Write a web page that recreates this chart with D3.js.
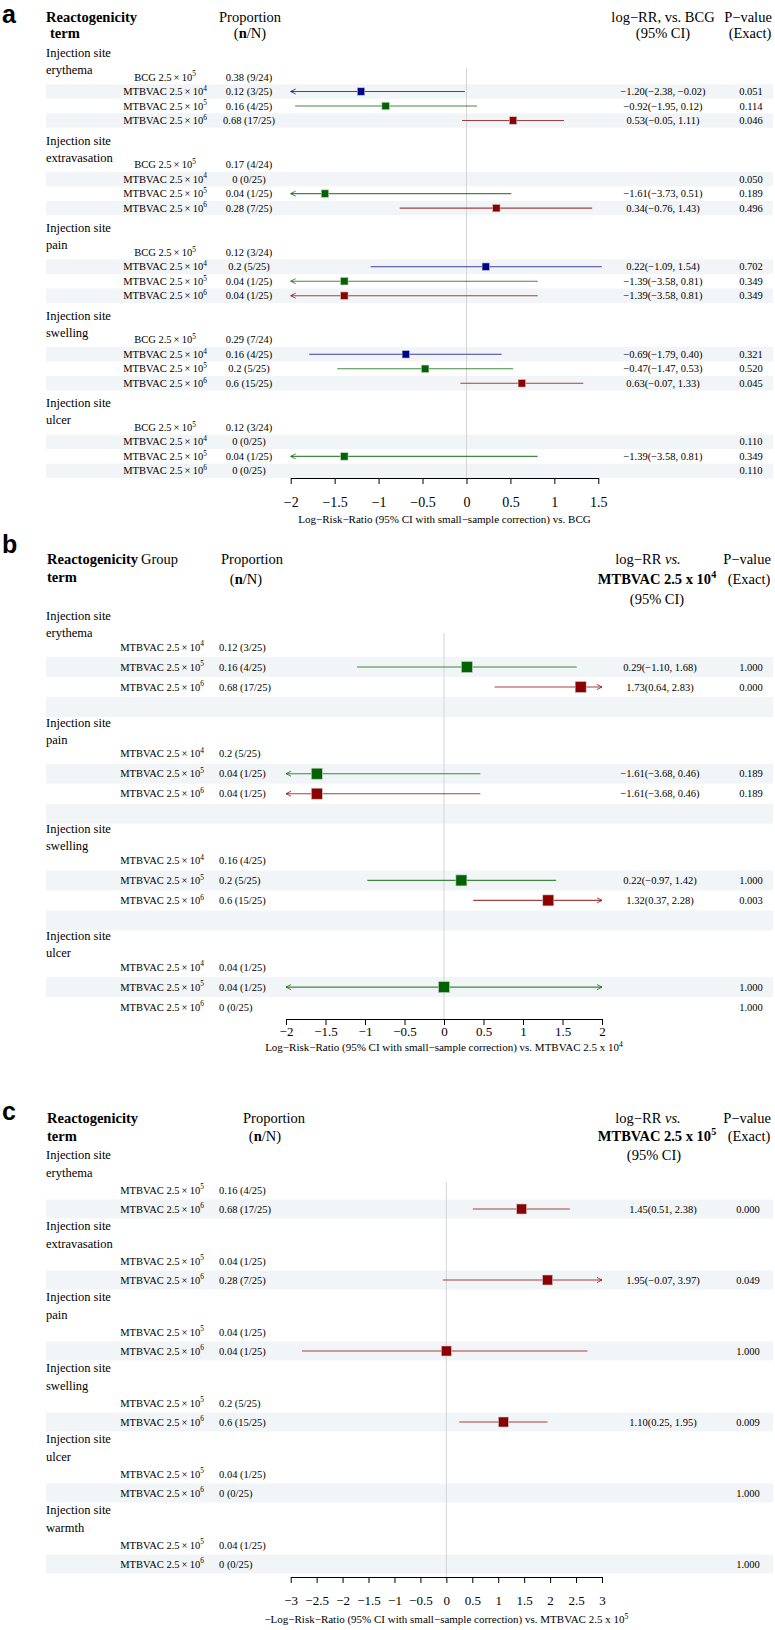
<!DOCTYPE html>
<html>
<head>
<meta charset="utf-8">
<script src="https://cdn.jsdelivr.net/npm/d3@7"></script>
<style>
  body { margin: 0; background: #fff; }
  svg { display: block; }
  text { font-family: "Liberation Serif", "Times New Roman", serif; fill: #000; }
</style>
</head>
<body>
<svg id="fig" width="775" height="1630"></svg>
<script>
// ---- panel a : log-RR vs BCG ----
const termsA = ["erythema", "extravasation", "pain", "swelling", "ulcer"];
const armsA = [["BCG", 5], ["MTBVAC", 4], ["MTBVAC", 5], ["MTBVAC", 6]];
const propA = [
  ["0.38 (9/24)", "0.12 (3/25)", "0.16 (4/25)", "0.68 (17/25)"],
  ["0.17 (4/24)", "0 (0/25)", "0.04 (1/25)", "0.28 (7/25)"],
  ["0.12 (3/24)", "0.2 (5/25)", "0.04 (1/25)", "0.04 (1/25)"],
  ["0.29 (7/24)", "0.16 (4/25)", "0.2 (5/25)", "0.6 (15/25)"],
  ["0.12 (3/24)", "0 (0/25)", "0.04 (1/25)", "0 (0/25)"]
];
const estA = [[null, -1.20, -0.92, 0.53], [null, null, -1.61, 0.34], [null, 0.22, -1.39, -1.39], [null, -0.69, -0.47, 0.63], [null, null, -1.39, null]];
const loA  = [[null, -2.38, -1.95, -0.05], [null, null, -3.73, -0.76], [null, -1.09, -3.58, -3.58], [null, -1.79, -1.47, -0.07], [null, null, -3.58, null]];
const hiA  = [[null, -0.02, 0.12, 1.11], [null, null, 0.51, 1.43], [null, 1.54, 0.81, 0.81], [null, 0.40, 0.53, 1.33], [null, null, 0.81, null]];
const ciTextA = [
  ["", "−1.20(−2.38, −0.02)", "−0.92(−1.95, 0.12)", "0.53(−0.05, 1.11)"],
  ["", "", "−1.61(−3.73, 0.51)", "0.34(−0.76, 1.43)"],
  ["", "0.22(−1.09, 1.54)", "−1.39(−3.58, 0.81)", "−1.39(−3.58, 0.81)"],
  ["", "−0.69(−1.79, 0.40)", "−0.47(−1.47, 0.53)", "0.63(−0.07, 1.33)"],
  ["", "", "−1.39(−3.58, 0.81)", ""]
];
const pA = [["", "0.051", "0.114", "0.046"], ["", "0.050", "0.189", "0.496"], ["", "0.702", "0.349", "0.349"], ["", "0.321", "0.520", "0.045"], ["", "0.110", "0.349", "0.110"]];
const ticksA = [-2, -1.5, -1, -0.5, 0, 0.5, 1, 1.5];

// ---- panel b : log-RR vs MTBVAC 2.5x10^4 ----
const termsB = ["erythema", "pain", "swelling", "ulcer"];
const armsB = [["MTBVAC", 4], ["MTBVAC", 5], ["MTBVAC", 6]];
const propB = [
  ["0.12 (3/25)", "0.16 (4/25)", "0.68 (17/25)"],
  ["0.2 (5/25)", "0.04 (1/25)", "0.04 (1/25)"],
  ["0.16 (4/25)", "0.2 (5/25)", "0.6 (15/25)"],
  ["0.04 (1/25)", "0.04 (1/25)", "0 (0/25)"]
];
const estB = [[null, 0.29, 1.73], [null, -1.61, -1.61], [null, 0.22, 1.32], [null, 0, null]];
const loB  = [[null, -1.10, 0.64], [null, -3.68, -3.68], [null, -0.97, 0.37], [null, -Infinity, null]];
const hiB  = [[null, 1.68, 2.83], [null, 0.46, 0.46], [null, 1.42, 2.28], [null, Infinity, null]];
const ciTextB = [
  ["", "0.29(−1.10, 1.68)", "1.73(0.64, 2.83)"],
  ["", "−1.61(−3.68, 0.46)", "−1.61(−3.68, 0.46)"],
  ["", "0.22(−0.97, 1.42)", "1.32(0.37, 2.28)"],
  ["", "", ""]
];
const pB = [["", "1.000", "0.000"], ["", "0.189", "0.189"], ["", "1.000", "0.003"], ["", "1.000", "1.000"]];
const ticksB = [-2, -1.5, -1, -0.5, 0, 0.5, 1, 1.5, 2];

// ---- panel c : log-RR vs MTBVAC 2.5x10^5 ----
const termsC = ["erythema", "extravasation", "pain", "swelling", "ulcer", "warmth"];
const armsC = [["MTBVAC", 5], ["MTBVAC", 6]];
const propC = [
  ["0.16 (4/25)", "0.68 (17/25)"],
  ["0.04 (1/25)", "0.28 (7/25)"],
  ["0.04 (1/25)", "0.04 (1/25)"],
  ["0.2 (5/25)", "0.6 (15/25)"],
  ["0.04 (1/25)", "0 (0/25)"],
  ["0.04 (1/25)", "0 (0/25)"]
];
const estC = [[null, 1.45], [null, 1.95], [null, 0], [null, 1.10], [null, null], [null, null]];
const loC  = [[null, 0.51], [null, -0.07], [null, -2.78], [null, 0.25], [null, null], [null, null]];
const hiC  = [[null, 2.38], [null, 3.97], [null, 2.72], [null, 1.95], [null, null], [null, null]];
const ciTextC = [["", "1.45(0.51, 2.38)"], ["", "1.95(−0.07, 3.97)"], ["", ""], ["", "1.10(0.25, 1.95)"], ["", ""], ["", ""]];
const pC = [["", "0.000"], ["", "0.049"], ["", "1.000"], ["", "0.009"], ["", "1.000"], ["", "1.000"]];
const ticksC = [-3, -2.5, -2, -1.5, -1, -0.5, 0, 0.5, 1, 1.5, 2, 2.5, 3];

const armColor = { 4: "#00008B", 5: "#006400", 6: "#8B0000" };
const bandFill = "#F2F5F7";
const svg = d3.select("#fig");

function txt(g, x, y, s, o = {}) {
  return g.append("text")
    .attr("x", x).attr("y", y)
    .attr("font-size", o.size || 10.5)
    .attr("text-anchor", o.anchor || "start")
    .attr("font-weight", o.bold ? "bold" : null)
    .attr("font-style", o.italic ? "italic" : null)
    .text(s);
}

function sup(t, base, exp, size) {
  t.append("tspan").text(base);
  t.append("tspan").attr("dy", -size * 0.4).attr("font-size", size * 0.7).text(exp);
}

function nOverN(g, x, y) {
  const t = txt(g, x, y, "", { size: 14.5, anchor: "middle" });
  t.append("tspan").text("(");
  t.append("tspan").attr("font-weight", "bold").text("n");
  t.append("tspan").text("/N)");
}

function letter(s, y) {
  svg.append("text").attr("x", 2).attr("y", y)
    .style("font-family", "'Liberation Sans', Arial, sans-serif")
    .attr("font-size", 25).attr("font-weight", "bold").text(s);
}

function panel(o) {
  const g = svg.append("g");
  const x = d3.scaleLinear().domain(o.domain).range(o.range);
  const [c0, c1] = o.clip || o.domain;

  // background bands
  o.terms.forEach((t, i) => {
    const r0 = o.firstRow + i * o.step;
    o.bands.forEach(j => {
      if (j >= o.arms.length && i === o.terms.length - 1) return;
      g.append("rect").attr("x", 46).attr("width", 727)
        .attr("y", r0 + j * o.rowH - o.rowH / 2).attr("height", o.rowH)
        .attr("fill", bandFill);
    });
  });

  // zero reference line
  g.append("line").attr("x1", x(0)).attr("x2", x(0))
    .attr("y1", o.lineTop).attr("y2", o.axisY)
    .attr("stroke", "#d4d4d4").attr("stroke-width", 1);

  o.terms.forEach((t, i) => {
    const r0 = o.firstRow + i * o.step;
    txt(g, 46, r0 - o.termUp[0], "Injection site", { size: 12.5 });
    txt(g, 46, r0 - o.termUp[1], t, { size: 12.5 });
    o.arms.forEach((a, j) => {
      const cy = r0 + j * o.rowH;
      const ty = cy + 3.5;
      const lab = g.append("text").attr("x", o.armX).attr("y", ty)
        .attr("font-size", 10.5).attr("text-anchor", "middle");
      sup(lab, a[0] + " 2.5\u2009×\u200910", a[1], 10.5);
      txt(g, o.propX, ty, o.prop[i][j], { anchor: o.propAnchor });
      txt(g, o.ciX, ty, o.ciText[i][j], { anchor: "middle" });
      txt(g, o.pX, ty, o.p[i][j], { anchor: "middle" });

      const e = o.est[i][j];
      if (e === null) return;
      const col = armColor[a[1]];
      const lo = o.lo[i][j], hi = o.hi[i][j];
      const xl = x(Math.max(lo, c0)), xr = x(Math.min(hi, c1));
      g.append("line").attr("x1", xl).attr("x2", xr).attr("y1", cy).attr("y2", cy)
        .attr("stroke", col).attr("stroke-opacity", 0.75).attr("stroke-width", 1.1);
      if (lo < c0) g.append("path").attr("d", `M${xl + 5},${cy - 2.5}L${xl},${cy}L${xl + 5},${cy + 2.5}`)
        .attr("fill", "none").attr("stroke", col).attr("stroke-opacity", 0.75);
      if (hi > c1) g.append("path").attr("d", `M${xr - 5},${cy - 2.5}L${xr},${cy}L${xr - 5},${cy + 2.5}`)
        .attr("fill", "none").attr("stroke", col).attr("stroke-opacity", 0.75);
      g.append("rect").attr("x", x(e) - o.ms / 2).attr("y", cy - o.ms / 2)
        .attr("width", o.ms).attr("height", o.ms)
        .attr("fill", col).attr("stroke", "#ccc").attr("stroke-width", 0.6);
    });
  });

  // x axis
  const ax = g.append("g").attr("transform", `translate(0,${o.axisY})`)
    .call(d3.axisBottom(x).tickValues(o.ticks).tickSize(6).tickSizeOuter(0).tickFormat(d3.format("~g")));
  ax.select(".domain").attr("stroke", "#000");
  ax.selectAll(".tick line").attr("stroke", "#000");
  ax.selectAll("text").attr("y", o.tickLabOff).attr("dy", 0)
    .attr("font-size", o.tickSize).attr("font-family", null).attr("fill", "#000");

  const title = g.append("text").attr("x", (o.range[0] + o.range[1]) / 2).attr("y", o.titleY)
    .attr("font-size", 11).attr("text-anchor", "middle");
  if (o.titleSup) sup(title, o.title, o.titleSup, 11);
  else title.text(o.title);
}

// ---------- panel a ----------
letter("a", 23);
{
  const g = svg.append("g");
  txt(g, 46, 22, "Reactogenicity", { size: 14.5, bold: true });
  txt(g, 50, 38, "term", { size: 14.5, bold: true });
  txt(g, 250, 22, "Proportion", { size: 14.5, anchor: "middle" });
  nOverN(g, 250, 38);
  txt(g, 663, 22, "log−RR, vs. BCG", { size: 14.5, anchor: "middle" });
  txt(g, 663, 38, "(95% CI)", { size: 14.5, anchor: "middle" });
  txt(g, 748, 22, "P−value", { size: 14.5, anchor: "middle" });
  txt(g, 750, 38, "(Exact)", { size: 14.5, anchor: "middle" });
}
panel({
  terms: termsA, arms: armsA, prop: propA, est: estA, lo: loA, hi: hiA, ciText: ciTextA, p: pA,
  ticks: ticksA, domain: [-2, 1.5], range: [290.7, 598.3], clip: [-2, 1.6],
  firstRow: 77, step: 87.6, rowH: 14.5, termUp: [20, 3], bands: [1, 3],
  lineTop: 68, axisY: 478, tickLabOff: 29, tickSize: 14, titleY: 523,
  armX: 165, propX: 249, propAnchor: "middle", ciX: 663, pX: 751, ms: 7.5,
  title: "Log−Risk−Ratio (95% CI with small−sample correction) vs. BCG"
});

// ---------- panel b ----------
letter("b", 553);
{
  const g = svg.append("g");
  txt(g, 47, 564, "Reactogenicity", { size: 14.5, bold: true });
  txt(g, 141, 564, "Group", { size: 14.5 });
  txt(g, 47, 582, "term", { size: 14.5, bold: true });
  txt(g, 252, 564, "Proportion", { size: 14.5, anchor: "middle" });
  nOverN(g, 246, 584);
  const lr = txt(g, 648, 564, "log−RR ", { size: 14.5, anchor: "middle" });
  lr.append("tspan").attr("font-style", "italic").text("vs.");
  const mb = txt(g, 657, 584, "", { size: 14.5, anchor: "middle", bold: true });
  sup(mb, "MTBVAC 2.5 x 10", "4", 14.5);
  txt(g, 657, 604, "(95% CI)", { size: 14.5, anchor: "middle" });
  txt(g, 747, 564, "P−value", { size: 14.5, anchor: "middle" });
  txt(g, 749, 584, "(Exact)", { size: 14.5, anchor: "middle" });
}
panel({
  terms: termsB, arms: armsB, prop: propB, est: estB, lo: loB, hi: hiB, ciText: ciTextB, p: pB,
  ticks: ticksB, domain: [-2, 2], range: [286, 602],
  firstRow: 647, step: 106.7, rowH: 20, termUp: [27, 10], bands: [1, 3],
  lineTop: 633, axisY: 1019, tickLabOff: 17, tickSize: 13, titleY: 1051,
  armX: 162, propX: 219, propAnchor: "start", ciX: 660, pX: 751, ms: 11,
  title: "Log−Risk−Ratio (95% CI with small−sample correction) vs. MTBVAC 2.5 x 10", titleSup: "4"
});

// ---------- panel c ----------
letter("c", 1120);
{
  const g = svg.append("g");
  txt(g, 47, 1123, "Reactogenicity", { size: 14.5, bold: true });
  txt(g, 47, 1141, "term", { size: 14.5, bold: true });
  txt(g, 274, 1123, "Proportion", { size: 14.5, anchor: "middle" });
  nOverN(g, 265, 1141);
  const lr = txt(g, 648, 1123, "log−RR ", { size: 14.5, anchor: "middle" });
  lr.append("tspan").attr("font-style", "italic").text("vs.");
  const mc = txt(g, 657, 1141, "", { size: 14.5, anchor: "middle", bold: true });
  sup(mc, "MTBVAC 2.5 x 10", "5", 14.5);
  txt(g, 654, 1160, "(95% CI)", { size: 14.5, anchor: "middle" });
  txt(g, 747, 1123, "P−value", { size: 14.5, anchor: "middle" });
  txt(g, 749, 1141, "(Exact)", { size: 14.5, anchor: "middle" });
}
panel({
  terms: termsC, arms: armsC, prop: propC, est: estC, lo: loC, hi: hiC, ciText: ciTextC, p: pC,
  ticks: ticksC, domain: [-3, 3], range: [290.7, 602],
  firstRow: 1190, step: 71, rowH: 19, termUp: [31, 13], bands: [1],
  lineTop: 1182, axisY: 1577, tickLabOff: 28, tickSize: 13, titleY: 1623,
  armX: 162, propX: 219, propAnchor: "start", ciX: 663, pX: 748, ms: 10,
  title: "−Log−Risk−Ratio (95% CI with small−sample correction) vs. MTBVAC 2.5 x 10", titleSup: "5"
});
</script>
</body>
</html>
